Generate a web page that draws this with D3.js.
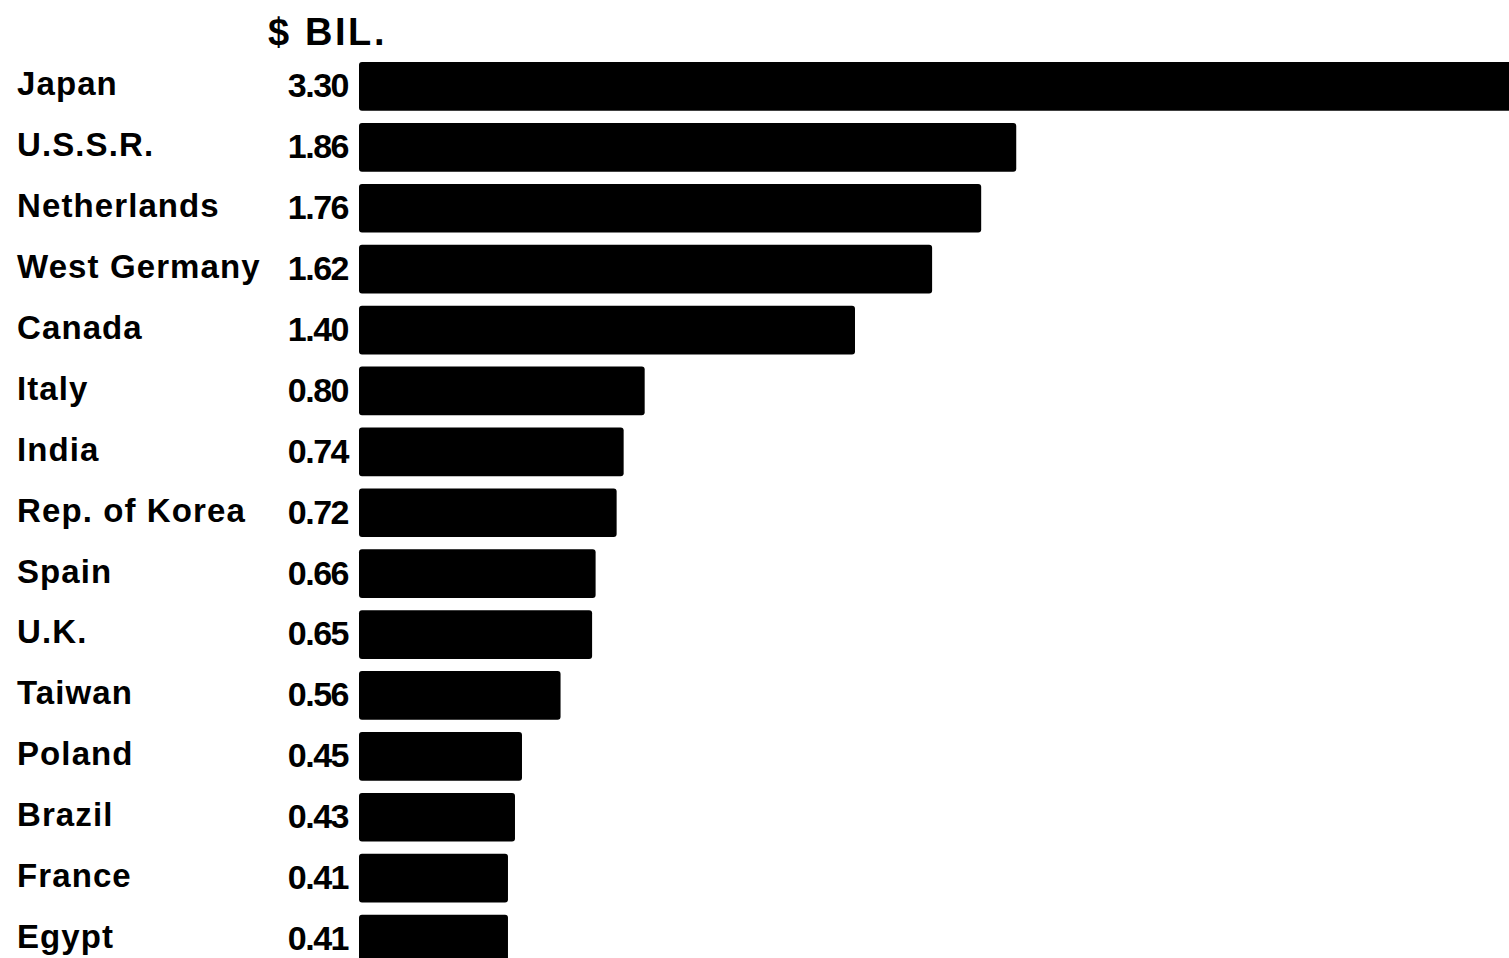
<!DOCTYPE html>
<html><head><meta charset="utf-8">
<script src="https://cdn.jsdelivr.net/npm/d3@7"></script>
<style>html,body{margin:0;padding:0;background:#fff;overflow:hidden}</style>
</head><body>
<svg id="c" width="1509" height="958"></svg>
<script>
const countries = ["Japan","U.S.S.R.","Netherlands","West Germany","Canada","Italy","India","Rep. of Korea","Spain","U.K.","Taiwan","Poland","Brazil","France","Egypt"];
const values = [3.30,1.86,1.76,1.62,1.40,0.80,0.74,0.72,0.66,0.65,0.56,0.45,0.43,0.41,0.41];
const valueLabels = ["3.30","1.86","1.76","1.62","1.40","0.80","0.74","0.72","0.66","0.65","0.56","0.45","0.43","0.41","0.41"];
const unitTitle = "$ BIL.";

const svg = d3.select("#c");
const barLeft = 359;
const x = d3.scaleLinear().domain([-0.015, 3.30]).range([0, 1162]);
const y = d3.scaleBand().domain(countries).range([56, 969.5]).paddingInner(0.2).paddingOuter(0.1);

const font = "'Liberation Sans', Arial, Helvetica, sans-serif";

svg.append("text").attr("x", 268).attr("y", 45)
  .attr("font-family", font).attr("font-weight", "bold").attr("font-size", 38)
  .attr("letter-spacing", 2.6).attr("fill", "#000").text(unitTitle);

const rows = svg.selectAll("g.row").data(countries).join("g").attr("class", "row");

rows.append("rect")
  .attr("x", barLeft)
  .attr("y", d => y(d))
  .attr("width", (d, i) => x(values[i]))
  .attr("height", y.bandwidth())
  .attr("rx", 3)
  .attr("fill", "#000");

rows.append("text")
  .attr("x", 17)
  .attr("y", d => y(d) + y.bandwidth() / 2 - 3)
  .attr("dy", "0.36em")
  .attr("font-family", font).attr("font-weight", "bold").attr("font-size", 33)
  .attr("letter-spacing", 1.1)
  .attr("fill", "#000")
  .text(d => d);

rows.append("text")
  .attr("x", 348)
  .attr("y", d => y(d) + y.bandwidth() / 2 - 2)
  .attr("dy", "0.38em")
  .attr("text-anchor", "end")
  .attr("font-family", font).attr("font-weight", "bold").attr("font-size", 34)
  .attr("letter-spacing", -1.5)
  .attr("fill", "#000")
  .text((d, i) => valueLabels[i]);
</script>
</body></html>
